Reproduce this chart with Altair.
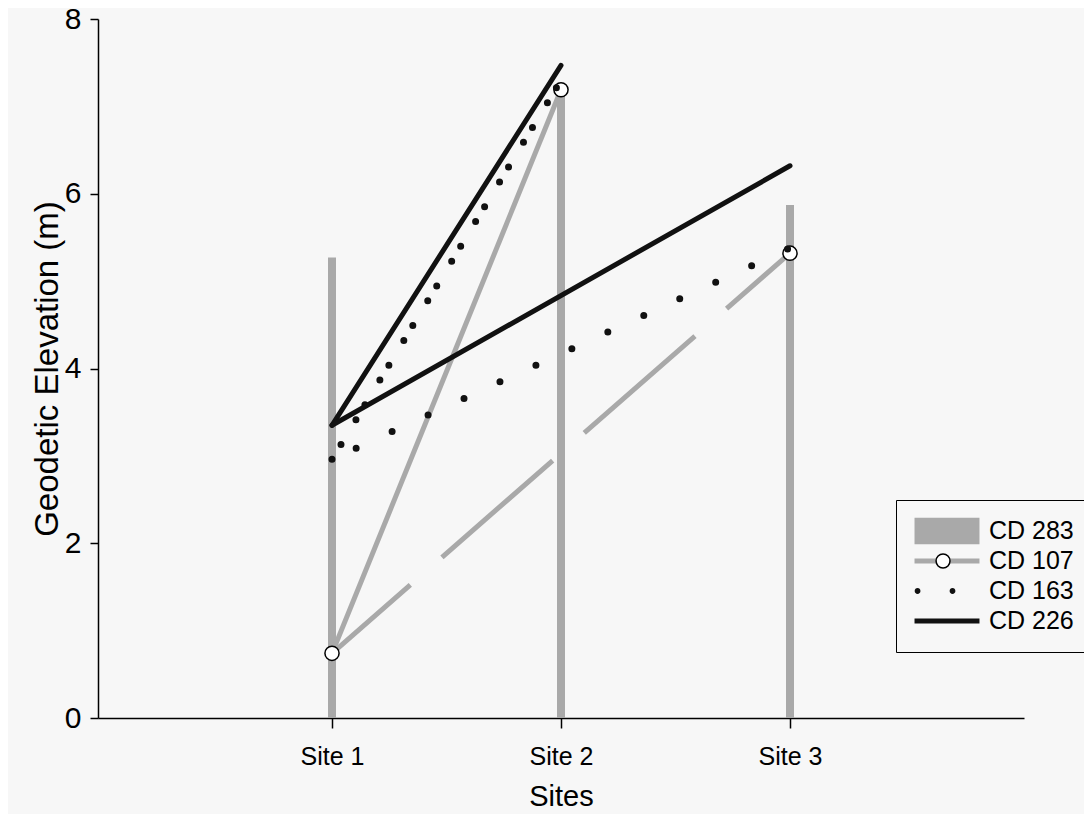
import json
import altair as alt
import pandas as pd

# ---------------- data ----------------
sites = ["Site 1", "Site 2", "Site 3"]
site_x = [1, 2, 3]
cd283 = [5.27, 7.13, 5.87]   # vertical bars
cd107 = [0.74, 7.19, 5.32]   # grey line, open circles
cd163 = [2.96, 7.30, 5.38]   # dotted
cd226 = [3.35, 7.47, 6.32]   # black line
series_names = ["CD 283", "CD 107", "CD 163", "CD 226"]
y_ticks = [0, 2, 4, 6, 8]

GRAY = "#a9a9a9"
BLACK = "#111111"
BG = "#f7f7f7"
FONT = "Liberation Sans"


def segments(vals, name):
    rows = []
    for segname, idx in (("1-2", [0, 1]), ("1-3", [0, 2])):
        for i in idx:
            rows.append({"series": name, "seg": segname, "x": site_x[i], "y": vals[i]})
    return rows


lines = pd.DataFrame(segments(cd107, "CD 107") + segments(cd163, "CD 163") + segments(cd226, "CD 226"))
bars = pd.DataFrame({"x": site_x, "y": cd283, "site": sites})
pts = pd.DataFrame({"x": site_x, "y": cd107})
leg = pd.DataFrame({"series": series_names})

label_expr = json.dumps(sites) + "[datum.value - 1]"

X = alt.X("x:Q", scale=alt.Scale(domain=[0, 4], nice=False, zero=False),
          axis=alt.Axis(values=site_x, labelExpr=label_expr, title="Sites",
                        grid=False, tickSize=10, labelPadding=16, titlePadding=13,
                        labelFontSize=25, titleFontSize=29, labelFont=FONT, titleFont=FONT,
                        titleFontWeight="normal", domainColor="black", tickColor="black",
                        domainWidth=1.5, tickWidth=1.5, labelColor="black", titleColor="black"))
Y = alt.Y("y:Q", scale=alt.Scale(domain=[0, 8], nice=False),
          axis=alt.Axis(values=y_ticks, title="Geodetic Elevation (m)", grid=False,
                        tickSize=8, labelPadding=9, titlePadding=0,
                        labelFontSize=30, titleFontSize=33, labelFont=FONT, titleFont=FONT,
                        titleFontWeight="normal", domainColor="black", tickColor="black",
                        domainWidth=1.5, tickWidth=1.5, labelColor="black", titleColor="black"))

bar_layer = alt.Chart(bars).mark_bar(size=8, color=GRAY).encode(x=X, y=Y)

g12 = alt.Chart(lines).transform_filter("datum.series == 'CD 107' && datum.seg == '1-2'").mark_line(
    color=GRAY, strokeWidth=5, strokeCap="butt").encode(x=X, y=Y)
g13 = alt.Chart(lines).transform_filter("datum.series == 'CD 107' && datum.seg == '1-3'").mark_line(
    color=GRAY, strokeWidth=5, strokeCap="butt", strokeDash=[147, 42], strokeDashOffset=43).encode(x=X, y=Y)

circles = alt.Chart(pts).mark_point(shape="circle", size=200, filled=True, fill="white",
                                     stroke="black", strokeWidth=1.5, opacity=1).encode(x=X, y=Y)

d12 = alt.Chart(lines).transform_filter("datum.series == 'CD 163' && datum.seg == '1-2'").mark_line(
    color=BLACK, strokeWidth=7, strokeCap="round", strokeDash=[0, 17.4, 0, 28.9]).encode(x=X, y=Y)
d13 = alt.Chart(lines).transform_filter("datum.series == 'CD 163' && datum.seg == '1-3'").mark_line(
    color=BLACK, strokeWidth=7, strokeCap="round", strokeDash=[0, 39.6], strokeDashOffset=13).encode(x=X, y=Y)

blk = alt.Chart(lines).transform_filter("datum.series == 'CD 226'").mark_line(
    color=BLACK, strokeWidth=5, strokeCap="round").encode(x=X, y=Y, detail="seg:N")

# ---------------- legend (built from scales) ----------------
rect_p = "M-2.24,-0.92H2.24V0.92H-2.24Z"
line_p = "M-2.24,0H2.24"
dots_p = ("M-2.23,0a0.2,0.2 0 1,0 0.4,0a0.2,0.2 0 1,0 -0.4,0Z"
          "M0.18,0a0.2,0.2 0 1,0 0.4,0a0.2,0.2 0 1,0 -0.4,0Z")
circ_p = "M-0.65,0a0.48,0.48 0 1,0 0.96,0a0.48,0.48 0 1,0 -0.96,0Z"
empty_p = "M0,0"

LX, LY = 798, 481
common_leg = dict(orient="none", legendX=LX, legendY=LY, title=None, symbolSize=841,
                  labelFontSize=25, labelFont=FONT, padding=16, rowPadding=0, clipHeight=30,
                  labelOffset=25, symbolOffset=18, symbolOpacity=1)

leg_main = alt.Legend(symbolStrokeWidth=5, labelColor="black", strokeColor="black",
                      fillColor=BG, **common_leg)
legend_layer = alt.Chart(leg).transform_filter("false").mark_point(filled=True, opacity=1).encode(
    shape=alt.Shape("series:N", scale=alt.Scale(domain=series_names, range=[rect_p, line_p, dots_p, line_p]),
                    legend=leg_main),
    fill=alt.Fill("series:N", scale=alt.Scale(domain=series_names,
                                              range=[GRAY, "transparent", BLACK, "transparent"]),
                  legend=leg_main),
    stroke=alt.Stroke("series:N", scale=alt.Scale(domain=series_names,
                                                  range=["transparent", GRAY, "transparent", BLACK]),
                      legend=leg_main),
)

# overlay legend: only draws the open circle on the CD 107 row
ov_names = ["o1", "o2", "o3", "o4"]
leg_ov = alt.Legend(symbolStrokeWidth=1.5, labelExpr="''", **common_leg)
overlay_layer = alt.Chart(pd.DataFrame({"ov": ov_names})).transform_filter("false").mark_point(
    filled=True, opacity=1).encode(
    shape=alt.Shape("ov:N", scale=alt.Scale(domain=ov_names, range=[empty_p, circ_p, empty_p, empty_p]),
                    legend=leg_ov),
    fill=alt.Fill("ov:N", scale=alt.Scale(domain=ov_names, range=["white"] * 4), legend=leg_ov),
    stroke=alt.Stroke("ov:N", scale=alt.Scale(domain=ov_names, range=["black"] * 4), legend=leg_ov),
)

chart = alt.layer(bar_layer, g12, g13, circles, d12, d13, blk, legend_layer, overlay_layer).resolve_scale(
    shape="independent", fill="independent", stroke="independent"
).properties(
    width=926, height=699,
    autosize=alt.AutoSizeParams(type="none"),
    padding={"left": 90, "top": 11, "right": 60, "bottom": 96},
    background=BG,
).configure_view(stroke=None)

chart.save("out.html", embed_options={"renderer": "svg", "actions": False})
